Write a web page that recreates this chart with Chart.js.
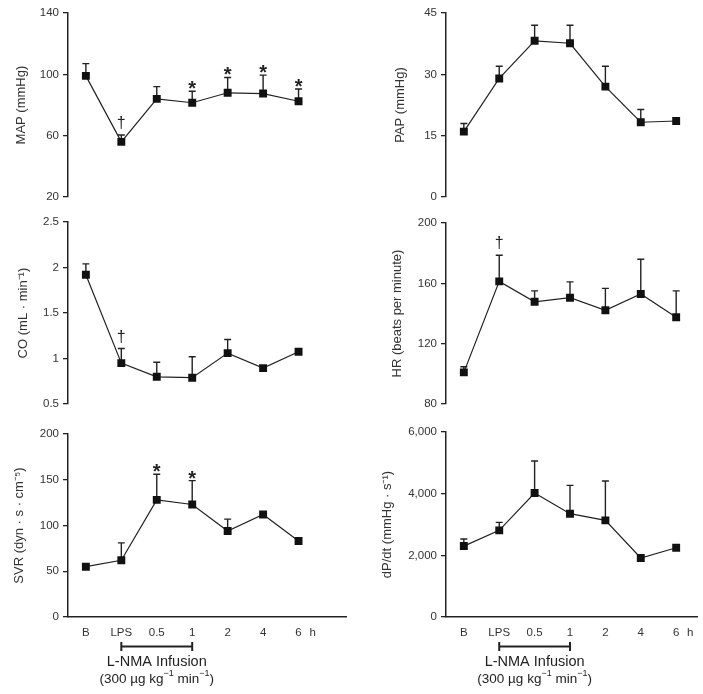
<!DOCTYPE html>
<html>
<head>
<meta charset="utf-8">
<script src="https://cdn.jsdelivr.net/npm/chart.js@4"></script>
<style>
body { margin: 0; background: #fff; }
#fig { position: relative; width: 703px; height: 694px; }
canvas { position: absolute; }
</style>
</head>
<body>
<div id="fig">
  <canvas id="map" width="352" height="208" style="left:0;top:0"></canvas>
  <canvas id="pap" width="351" height="208" style="left:352px;top:0"></canvas>
  <canvas id="co" width="352" height="205" style="left:0;top:210px"></canvas>
  <canvas id="hr" width="351" height="205" style="left:352px;top:210px"></canvas>
  <canvas id="svr" width="352" height="274" style="left:0;top:420px"></canvas>
  <canvas id="dpdt" width="351" height="274" style="left:352px;top:420px"></canvas>
</div>
<script>
// time points (x axis)
const timeLabels = ['B', 'LPS', '0.5', '1', '2', '4', '6'];
const timeIdx = [0, 1, 2, 3, 4, 5, 6];

// mean values and upper error
const mapMean = [99, 56, 84, 81.5, 88, 87.5, 82.5];
const mapErr  = [8, 4.5, 8, 7.5, 10, 12, 8];
const mapSig  = ['', '†', '', '*', '*', '*', '*'];

const papMean = [16, 29, 38.2, 37.6, 27, 18.3, 18.6];
const papErr  = [2, 3, 3.8, 4.4, 5, 3.1, 0];
const papSig  = ['', '', '', '', '', '', ''];

const coMean = [1.92, 0.95, 0.80, 0.79, 1.06, 0.895, 1.075];
const coErr  = [0.12, 0.16, 0.16, 0.23, 0.15, 0, 0];
const coSig  = ['', '†', '', '', '', '', ''];

const hrMean = [101, 161.3, 147.8, 150.5, 142.2, 153, 137.6];
const hrErr  = [3.7, 17.3, 7.2, 10.5, 14.5, 23, 17.4];
const hrSig  = ['', '†', '', '', '', '', ''];

const svrMean = [55, 62, 128, 123, 94, 112, 83];
const svrErr  = [0, 19, 28, 26, 13, 0, 0];
const svrSig  = ['', '', '*', '*', '', '', ''];

const dpMean = [2300, 2810, 4020, 3350, 3135, 1915, 2245];
const dpErr  = [230, 260, 1040, 920, 1275, 0, 0];
const dpSig  = ['', '', '', '', '', '', ''];

const FONT = 'Arial, "Liberation Sans", sans-serif';
const INK = '#222';

// error bars, significance marks, infusion bracket
const extras = {
  id: 'extras',
  beforeDatasetsDraw(chart, args, opts) {
    const ctx = chart.ctx, x = chart.scales.x, y = chart.scales.y;
    const mean = chart.data.datasets[0].data;
    ctx.save();
    ctx.strokeStyle = INK;
    ctx.lineWidth = 1.4;
    opts.err.forEach((e, i) => {
      if (!e) return;
      const px = x.getPixelForValue(mean[i].x);
      const y0 = y.getPixelForValue(mean[i].y);
      const y1 = y.getPixelForValue(mean[i].y + e);
      ctx.beginPath();
      ctx.moveTo(px, y0); ctx.lineTo(px, y1);
      ctx.moveTo(px - 3.5, y1); ctx.lineTo(px + 3.5, y1);
      ctx.stroke();
    });
    ctx.restore();
  },
  afterDatasetsDraw(chart, args, opts) {
    const ctx = chart.ctx, x = chart.scales.x, y = chart.scales.y;
    const mean = chart.data.datasets[0].data;
    ctx.save();
    ctx.fillStyle = INK;
    ctx.textAlign = 'center';
    ctx.textBaseline = 'alphabetic';
    opts.sig.forEach((s, i) => {
      if (!s) return;
      const px = x.getPixelForValue(mean[i].x);
      const top = y.getPixelForValue(mean[i].y + (opts.err[i] || 0));
      if (s === '*') {
        ctx.font = 'bold 20px ' + FONT;
        ctx.fillText(s, px, top + 4);
      } else {
        ctx.font = '16px ' + FONT;
        ctx.fillText(s, px, top - 7);
      }
    });
    if (opts.bottom) {
      const b = chart.chartArea.bottom;
      // unit label after the last time point
      ctx.font = '11.5px ' + FONT;
      ctx.fillStyle = '#333';
      ctx.textBaseline = 'middle';
      ctx.fillText('h', x.getPixelForValue(6.4), b + 15.5);
      // infusion bracket from LPS to 1 h
      const xa = x.getPixelForValue(1), xb = x.getPixelForValue(3);
      const yb = b + 29.5;
      ctx.strokeStyle = INK;
      ctx.lineWidth = 2;
      ctx.beginPath();
      ctx.moveTo(xa, yb); ctx.lineTo(xb, yb);
      ctx.moveTo(xa, yb - 4.5); ctx.lineTo(xa, yb + 4.5);
      ctx.moveTo(xb, yb - 4.5); ctx.lineTo(xb, yb + 4.5);
      ctx.stroke();
      const cx = (xa + xb) / 2;
      ctx.fillStyle = INK;
      ctx.font = '14.5px ' + FONT;
      ctx.fillText('L-NMA Infusion', cx, b + 45);
      // second line with superscripts
      const parts = [['(300 µg kg', false], ['−1', true], [' min', false], ['−1', true], [')', false]];
      const fMain = '13.5px ' + FONT, fSup = '9px ' + FONT;
      let w = 0;
      parts.forEach(p => { ctx.font = p[1] ? fSup : fMain; w += ctx.measureText(p[0]).width; });
      let cur = cx - w / 2;
      ctx.textAlign = 'left';
      parts.forEach(p => {
        ctx.font = p[1] ? fSup : fMain;
        ctx.fillText(p[0], cur, b + (p[1] ? 57 : 62));
        cur += ctx.measureText(p[0]).width;
      });
    }
    ctx.restore();
  }
};

function makePanel(p) {
  const left = p.col === 0;
  const bottom = !!p.bottom;
  const yW = left ? 68 : 94;
  const xMin = -18 / 35.7;
  const xMax = left ? 7.35 : 6.6;
  new Chart(document.getElementById(p.id), {
    type: 'line',
    data: {
      datasets: [{
        data: p.mean.map((v, i) => ({ x: timeIdx[i], y: v })),
        borderColor: INK,
        borderWidth: 1.2,
        pointStyle: 'rect',
        pointRadius: 5.6,
        pointBackgroundColor: '#111',
        pointBorderWidth: 0,
        tension: 0
      }]
    },
    options: {
      responsive: false,
      animation: false,
      layout: {
        padding: { top: p.padTop, bottom: bottom ? 0 : p.padBottom, left: 0, right: left ? 4 : 3 }
      },
      plugins: {
        legend: { display: false },
        tooltip: { enabled: false },
        extras: { err: p.err, sig: p.sig, bottom: bottom }
      },
      scales: {
        x: {
          type: 'linear',
          display: bottom,
          min: xMin,
          max: xMax,
          afterBuildTicks: s => { s.ticks = timeIdx.map(v => ({ value: v })); },
          afterFit: s => { if (bottom) s.height = 77; },
          ticks: {
            autoSkip: false,
            maxRotation: 0,
            padding: 8.5,
            color: '#333',
            font: { family: FONT, size: 11.5 },
            callback: (v, i) => timeLabels[i]
          },
          grid: { display: false, drawTicks: false },
          border: { display: true, color: INK, width: 1.5 }
        },
        y: {
          min: p.min,
          max: p.max,
          afterFit: s => { s.width = yW; },
          ticks: {
            stepSize: p.step,
            padding: 4,
            color: '#333',
            font: { family: FONT, size: 11.5 },
            callback: v => v.toLocaleString('en-US')
          },
          grid: { drawOnChartArea: false, drawTicks: true, tickLength: 5, color: INK, lineWidth: 1.3 },
          border: { display: true, color: INK, width: 1.5 },
          title: {
            display: true,
            text: p.title,
            color: '#333',
            font: { family: FONT, size: 13 },
            padding: { top: p.titleX - (left ? 0 : 352) - 7.8, bottom: 0 }
          }
        }
      }
    },
    plugins: [extras]
  });
}

makePanel({ id: 'map', col: 0, title: 'MAP (mmHg)', mean: mapMean, err: mapErr, sig: mapSig,
  min: 20, max: 140, step: 40, padTop: 13, padBottom: 10, titleX: 21 });
makePanel({ id: 'pap', col: 1, title: 'PAP (mmHg)', mean: papMean, err: papErr, sig: papSig,
  min: 0, max: 45, step: 15, padTop: 13, padBottom: 10, titleX: 400 });
makePanel({ id: 'co', col: 0, title: 'CO (mL · min⁻¹)', mean: coMean, err: coErr, sig: coSig,
  min: 0.5, max: 2.5, step: 0.5, padTop: 12, padBottom: 9, titleX: 23 });
makePanel({ id: 'hr', col: 1, title: 'HR (beats per minute)', mean: hrMean, err: hrErr, sig: hrSig,
  min: 80, max: 200, step: 40, padTop: 13, padBottom: 10, titleX: 397 });
makePanel({ id: 'svr', col: 0, title: 'SVR (dyn · s · cm⁻⁵)', mean: svrMean, err: svrErr, sig: svrSig,
  min: 0, max: 200, step: 50, padTop: 14, bottom: true, titleX: 19 });
makePanel({ id: 'dpdt', col: 1, title: 'dP/dt (mmHg · s⁻¹)', mean: dpMean, err: dpErr, sig: dpSig,
  min: 0, max: 6000, step: 2000, padTop: 12, bottom: true, titleX: 387 });
</script>
</body>
</html>
